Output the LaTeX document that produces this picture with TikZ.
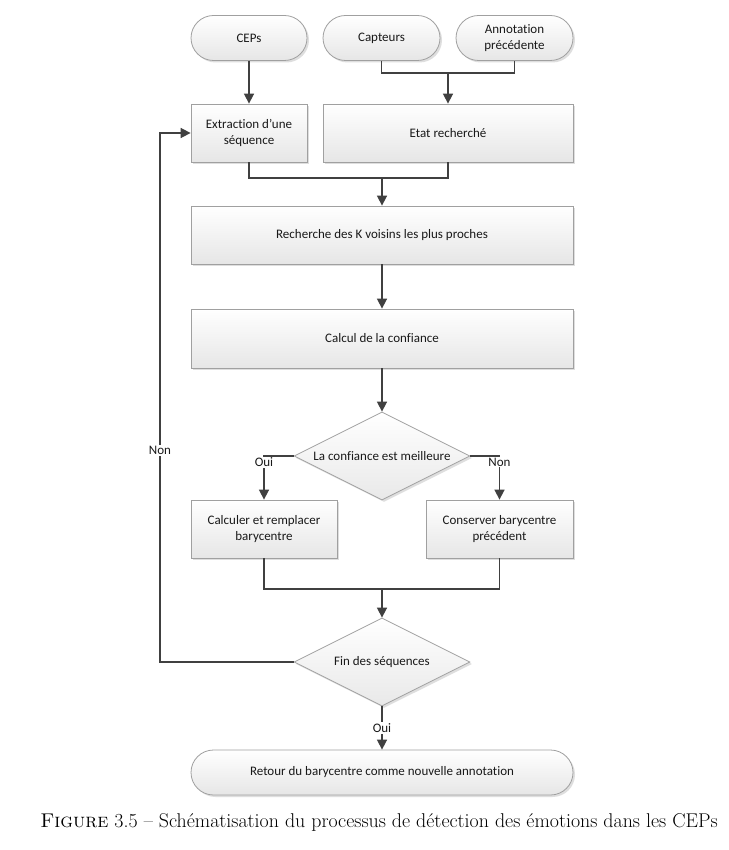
\documentclass[tikz,border=0pt]{standalone}
\usepackage{fontspec}
\newfontfamily\calib[Ligatures=NoCommon]{Carlito}
\usetikzlibrary{arrows.meta,shapes.misc,shapes.geometric,shadows}
\definecolor{bordc}{HTML}{A0A0A0}
\definecolor{linec}{HTML}{404040}
\definecolor{fillb}{HTML}{E6E6E6}
\tikzset{
  base/.style={draw=bordc, line width=0.8pt, top color=white, bottom color=fillb,
    inner sep=0pt, align=center, font=\calib\fontsize{13}{15.5}\selectfont, text=black!90,
    drop shadow={shadow xshift=2pt, shadow yshift=-2pt, fill=black!25, opacity=0.5}},
  proc/.style={base, rectangle},
  term/.style={base, rounded rectangle, rounded rectangle arc length=180},
  dec/.style={base, diamond, aspect=2, top color=white, bottom color=fillb!90},
  conn/.style={draw=linec, line width=1.6pt},
  arr/.style={conn, -{Triangle[length=10pt,width=10pt]}},
  lab/.style={fill=white, inner sep=1pt, font=\calib\fontsize{13}{15}\selectfont, text=black!90},
}
\begin{document}
\begin{tikzpicture}[x=1pt,y=-1pt]
\useasboundingbox[fill=white] (0,0) rectangle (728,850);
% terminators
\node[term, minimum width=116pt, minimum height=45pt] (ceps) at (249,38) {CEPs};
\node[term, minimum width=117pt, minimum height=45pt] (cap) at (381.5,38) {Capteurs};
\node[term, minimum width=117pt, minimum height=45pt] (ann) at (514.5,38) {Annotation\\précédente};
% processes
\node[proc, minimum width=116pt, minimum height=58pt] (ext) at (249,133) {Extraction d’une\\séquence};
\node[proc, minimum width=250pt, minimum height=58pt] (etat) at (448,133) {Etat recherché};
\node[proc, minimum width=382pt, minimum height=58pt] (rech) at (382,235) {Recherche des K voisins les plus proches};
\node[proc, minimum width=382pt, minimum height=59pt] (calc) at (382,338.5) {Calcul de la confiance};
\node[dec, minimum width=176pt, minimum height=88pt] (d1) at (382,456) {La confiance est meilleure};
\node[proc, minimum width=146pt, minimum height=58pt] (cr) at (264,529) {Calculer et remplacer\\barycentre};
\node[proc, minimum width=147pt, minimum height=58pt] (cons) at (499.5,529) {Conserver barycentre\\précédent};
\node[dec, minimum width=176pt, minimum height=88pt] (fin) at (382,662) {Fin des séquences};
\node[term, minimum width=382pt, minimum height=45pt] (ret) at (382,772.5) {Retour du barycentre comme nouvelle annotation};
% junctions
\coordinate (j1) at (448,73);
\coordinate (j2) at (382,178);
\coordinate (j3) at (382,589);
\coordinate (lp) at (160,662);
% connectors
\draw[arr] (ceps.south) -- (ext.north);
\draw[conn] (cap.south) |- (j1) -| (ann.south);
\draw[arr] (j1) -- (etat.north);
\draw[conn] (ext.south) |- (j2) -| (etat.south);
\draw[arr] (j2) -- (rech.north);
\draw[arr] (rech.south) -- (calc.north);
\draw[arr] (calc.south) -- (d1.north);
\draw[arr] (d1.west) -| (cr.north) node[lab, pos=0.5, anchor=north] {Oui};
\draw[arr] (d1.east) -| (cons.north) node[lab, pos=0.5, anchor=north] {Non};
\draw[conn] (cr.south) |- (j3) -| (cons.south);
\draw[arr] (j3) -- (fin.north);
\draw[arr] (fin.west) -- (lp) |- (ext.west) node[lab, pos=0.2] {Non};
\draw[arr] (fin.south) -- (ret.north) node[lab, midway] {Oui};
% caption
\node[font=\fontsize{19.9}{22}\selectfont, inner sep=0pt] (cap1) at (379,822) {\textsc{Figure} 3.5 – Schématisation du processus de détection des émotions dans les CEPs};
\end{tikzpicture}
\end{document}
